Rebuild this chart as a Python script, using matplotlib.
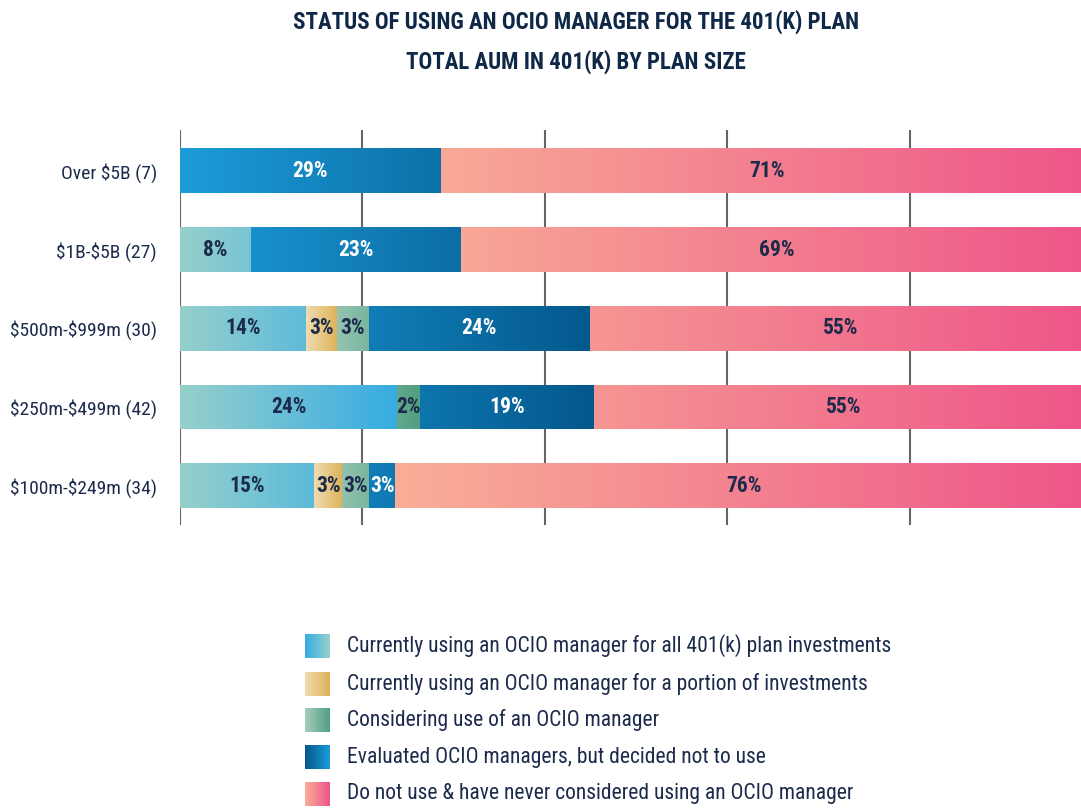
import matplotlib.pyplot as plt
import matplotlib.font_manager as fm
from matplotlib.colors import LinearSegmentedColormap
import numpy as np

# pick a narrow font if one is installed
names = {f.name for f in fm.fontManager.ttflist}
FONT = "DejaVu Sans"
for cand in ["Roboto Condensed", "Liberation Sans Narrow", "Open Sans Condensed"]:
    if cand in names:
        FONT = cand
        break
plt.rcParams["font.family"] = [FONT, "DejaVu Sans"]
plt.rcParams["font.stretch"] = "condensed"
plt.rcParams["text.parse_math"] = False

NAVY = "#1c2b4b"

# data (top to bottom)
categories = ["Over $5B (7)", "$1B-$5B (27)", "$500m-$999m (30)",
              "$250m-$499m (42)", "$100m-$249m (34)"]
series = ["Currently using an OCIO manager for all 401(k) plan investments",
          "Currently using an OCIO manager for a portion of investments",
          "Considering use of an OCIO manager",
          "Evaluated OCIO managers, but decided not to use",
          "Do not use & have never considered using an OCIO manager"]
# bar widths as measured, and the percentages printed on them
use_all = [0, 7.8, 13.8, 23.8, 14.7]
use_portion = [0, 0, 3.4, 0, 3.1]
considering = [0, 0, 3.5, 2.5, 2.9]
evaluated = [28.6, 23.0, 24.2, 19.1, 2.9]
never = [71.4, 69.2, 55.1, 54.6, 76.4]
lab_all = [0, 8, 14, 24, 15]
lab_portion = [0, 0, 3, 0, 3]
lab_considering = [0, 0, 3, 2, 3]
lab_evaluated = [29, 23, 24, 19, 3]
lab_never = [71, 69, 55, 55, 76]

widths = [use_all, use_portion, considering, evaluated, never]
labels = [lab_all, lab_portion, lab_considering, lab_evaluated, lab_never]

cmaps = [
    LinearSegmentedColormap.from_list("all", ["#96d0cc", "#36ace2"]),
    LinearSegmentedColormap.from_list("por", ["#f0dcb0", "#dcb258"]),
    LinearSegmentedColormap.from_list("con", ["#a6cdbd", "#529f82"]),
    LinearSegmentedColormap.from_list("eva", ["#1c9cd9", "#03578c"]),
    LinearSegmentedColormap.from_list("nev", ["#f9ad97", "#ee5689"]),
]
# x-range the gradient runs over (None = per segment)
grad_range = [(0, 24), None, (15, 26), (0, 46), (25, 99)]
text_col = [NAVY, NAVY, NAVY, "white", NAVY]

fig = plt.figure(figsize=(10.81, 8.08), dpi=100)
ax = fig.add_axes([180 / 1081, 1 - 525 / 808, 1 - 180 / 1081, 395 / 808])

y = np.arange(len(categories))
left = np.zeros(len(categories))
for i, w in enumerate(widths):
    bars = ax.barh(y, w, left=left, height=0.57, color="none",
                   edgecolor="none", zorder=2)
    for bar, lab in zip(bars, labels[i]):
        x0, y0 = bar.get_x(), bar.get_y()
        bw, bh = bar.get_width(), bar.get_height()
        if bw <= 0:
            continue
        lo, hi = grad_range[i] if grad_range[i] else (x0, x0 + bw)
        xs = np.linspace(x0, x0 + bw, 100)
        vals = np.clip((xs - lo) / (hi - lo), 0, 1)[None, :]
        im = ax.imshow(vals, cmap=cmaps[i], vmin=0, vmax=1, aspect="auto",
                       extent=[x0, x0 + bw, y0 + bh, y0],
                       interpolation="bilinear", zorder=2)
        im.set_clip_path(bar)
        ax.text(x0 + bw / 2, bar.get_y() + bh / 2, f"{lab}%", ha="center",
                va="center", fontsize=15.5, fontweight="bold",
                color=text_col[i], zorder=3)
    left += np.array(w)

# the source chart is cropped a little short of 100 %
ax.set_xlim(0, 98.74)
ax.set_ylim(4.5, -0.52)
ax.set_yticks(y)
ax.set_yticklabels(categories, fontsize=14, color=NAVY)
ax.set_xticks([0, 20, 40, 60, 80])
ax.set_xticklabels([])
ax.tick_params(length=0, pad=16.5)
ax.grid(axis="x", color="#666666", linewidth=1.5)
ax.set_axisbelow(True)
for s in ax.spines.values():
    s.set_visible(False)

# title
fig.text(576 / 1081, 1 - 22 / 808, "STATUS OF USING AN OCIO MANAGER FOR THE 401(K) PLAN",
         ha="center", va="center", fontsize=16.5, fontweight="bold", color="#0f2847")
fig.text(576 / 1081, 1 - 62 / 808, "TOTAL AUM IN 401(K) BY PLAN SIZE",
         ha="center", va="center", fontsize=16.5, fontweight="bold", color="#0f2847")

# legend with gradient swatches
lax = fig.add_axes([0, 0, 1, 1])
lax.axis("off")
rows = [646, 684, 720, 757, 794]
flip = [True, False, False, True, False]
for i, (name, ry) in enumerate(zip(series, rows)):
    g = np.linspace(0, 1, 50)[None, :]
    if flip[i]:
        g = g[:, ::-1]
    lax.imshow(g, cmap=cmaps[i], vmin=0, vmax=1, aspect="auto",
               extent=[305, 330, ry + 12, ry - 12], interpolation="bilinear")
    lax.text(347, ry, name, ha="left", va="center", fontsize=15.5, color=NAVY)
lax.set_xlim(0, 1081)
lax.set_ylim(808, 0)

fig.savefig("out.png", dpi=100)
